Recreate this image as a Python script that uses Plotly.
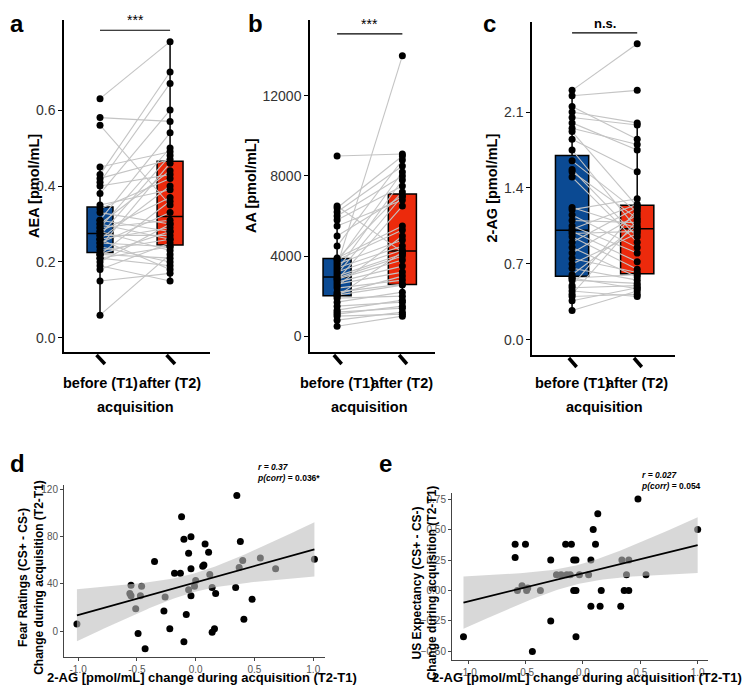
import numpy as np
import plotly.graph_objects as go

groups = ["before (T1)", "after (T2)"]
aea_t1 = [0.06,0.15,0.18,0.19,0.20,0.21,0.21,0.22,0.22,0.22,0.23,0.24,0.24,0.25,0.25,0.26,0.26,0.26,0.27,0.27,
          0.28,0.28,0.29,0.29,0.30,0.30,0.31,0.31,0.33,0.34,0.35,0.38,0.40,0.41,0.42,0.43,0.45,0.56,0.58,0.63]
aea_t2 = [0.22,0.17,0.25,0.15,0.30,0.24,0.19,0.28,0.36,0.21,0.26,0.46,0.20,0.33,0.24,0.40,0.18,0.29,0.48,0.27,
          0.23,0.37,0.31,0.50,0.26,0.44,0.28,0.54,0.30,0.42,0.39,0.60,0.43,0.67,0.47,0.70,0.49,0.35,0.57,0.78]
aa_t1 = [500,800,1000,1100,1200,1300,1500,1700,1900,2000,2050,2100,2200,2400,2500,2600,2700,2800,2850,2900,
         3000,3100,3200,3300,3400,3500,3600,3700,3800,3850,3900,4500,5000,5500,5800,6000,6200,6400,6500,9000]
aa_t2 = [1000,1200,1100,1500,1400,1800,1700,2200,2000,4200,2550,3000,2600,2800,5000,3200,3500,6500,3800,4000,
         4100,7000,4300,7800,4500,14000,4800,8200,5300,7200,5500,8800,7000,6800,7500,8000,8500,9000,4200,9100]
ag_t1 = [0.27,0.36,0.40,0.42,0.45,0.48,0.50,0.55,0.57,0.57,0.60,0.66,0.70,0.75,0.80,0.85,0.90,0.95,0.98,1.00,
         1.02,1.05,1.10,1.15,1.20,1.22,1.50,1.55,1.57,1.65,1.75,1.85,1.92,1.95,2.00,2.05,2.10,2.15,2.25,2.30]
ag_t2 = [0.45,0.48,0.42,1.10,0.40,0.50,1.20,0.52,0.47,0.60,1.05,0.55,0.98,0.62,1.15,0.58,1.22,0.65,1.00,0.72,
         1.25,0.80,1.08,0.85,1.30,1.03,0.90,1.12,0.95,1.18,1.02,1.55,1.23,1.80,1.75,1.98,2.00,1.85,2.30,2.73]

d_x = [-1.01,-0.55,-0.56,-0.55,-0.46,-0.51,-0.47,-0.49,-0.43,-0.35,-0.26,-0.27,-0.22,-0.18,-0.13,-0.12,-0.10,-0.10,
       -0.08,-0.06,-0.06,-0.04,-0.04,-0.04,0.00,-0.01,0.06,0.07,0.08,0.11,0.12,0.14,0.14,0.16,0.17,0.34,0.35,0.37,
       0.38,0.40,0.41,0.48,0.55,0.68,1.01]
d_y = [6,39,32,30,38,19,30,-2,-15,59,29,17,2,49,49,97,78,-9,14,66,35,80,53,30,43,38,55,56,74,67,48,37,-1,2,32,
       37,115,54,76,60,10,27,62,53,61]
e_x = [-1.04,-0.59,-0.59,-0.57,-0.53,-0.50,-0.49,-0.48,-0.44,-0.37,-0.28,-0.28,-0.23,-0.19,-0.15,-0.14,-0.11,-0.10,
       -0.08,-0.08,-0.06,-0.06,-0.06,-0.03,0.05,0.07,0.07,0.09,0.11,0.13,0.15,0.16,0.33,0.34,0.36,0.38,0.40,0.40,
       0.48,0.55,1.00]
e_y = [-0.38,0.38,0.27,0,0.04,0.38,0,0.02,-0.5,0,0.25,-0.25,0.13,0.13,0.38,0.13,0.13,0.38,0.25,0,0.25,0,-0.38,
       0.13,0.13,0.25,-0.13,0.50,0.38,0.63,-0.13,0,-0.13,0.25,0,0.13,0,0.25,0.75,0.13,0.5]

BLUE = "#0b4a93"; RED = "#ec2a0c"
FONT = "Liberation Sans"
OFF = 8                      # page body margin
W, H = 750 - OFF, 688 - OFF
def fx(p): return (p - OFF) / W
def fy(p): return 1 - (p - OFF) / H
def px(x0, x1): return [fx(x0), fx(x1)]
def py(top, bot): return [fy(bot), fy(top)]

fig = go.Figure()
top_panels = [
    ("", aea_t1, aea_t2, px(64, 210), py(20, 352), [0.486, 2.57], [-0.037, 0.837], [0, 0.2, 0.4, 0.6],
     ["0.0", "0.2", "0.4", "0.6"], "AEA [pmol/mL]", 0.37, 0.81, "***", 34),
    ("2", aa_t1, aa_t2, px(310, 435), py(20, 352), [0.585, 2.5], [-790, 15790], [0, 4000, 8000, 12000],
     ["0", "4000", "8000", "12000"], "AA [pmol/mL]", 0.43, 15100, "***", 251),
    ("3", ag_t1, ag_t2, px(532, 675), py(22, 355), [0.385, 2.58], [-0.14, 2.93], [0, 0.7, 1.4, 2.1],
     ["0.0", "0.7", "1.4", "2.1"], "2-AG [pmol/mL]", 0.51, 2.83, "n.s.", 492),
]
for (s, t1, t2, xd, yd, xr, yr, tv, tt, ytitle, bw, sigy, sig, ytx) in top_panels:
    xa, ya = "x" + s, "y" + s
    for pos, vals, col in [(1, t1, BLUE), (2, t2, RED)]:
        fig.add_trace(go.Box(y=vals, x=[pos] * len(vals), xaxis=xa, yaxis=ya, fillcolor=col,
                             line=dict(color="black", width=1.5), width=bw, boxpoints="outliers",
                             marker=dict(opacity=0, size=1), whiskerwidth=0, showlegend=False,
                             hoverinfo="skip"))
    lx, ly = [], []
    for a, b in zip(t1, t2):
        lx += [1, 2, None]; ly += [a, b, None]
    fig.add_trace(go.Scatter(x=lx, y=ly, mode="lines", line=dict(color="#c4c4c4", width=1.1),
                             xaxis=xa, yaxis=ya, showlegend=False, hoverinfo="skip"))
    fig.add_trace(go.Scatter(x=[1] * len(t1) + [2] * len(t2), y=t1 + t2, mode="markers",
                             marker=dict(color="black", size=7), xaxis=xa, yaxis=ya, showlegend=False))
    fig.add_shape(type="line", xref=xa, yref=ya, x0=1, x1=2, y0=sigy, y1=sigy, line=dict(color="black", width=1.2))
    fig.add_annotation(xref=xa, yref=ya, x=1.5, y=sigy, text="<b>" + sig + "</b>" if sig == "n.s." else sig,
                       showarrow=False, yanchor="bottom", font=dict(size=13 if sig == "n.s." else 14, color="black"))
    for pos in (1, 2):
        fig.add_shape(type="line", xref=xa, yref="paper", x0=pos - 0.05, x1=pos + 0.07,
                      y0=yd[0] - 3 / H, y1=yd[0] - 12 / H, line=dict(color="black", width=3.5))
    fig.add_annotation(xref=xa, yref="paper", x=1.5, y=fy(407), text="<b>acquisition</b>", showarrow=False,
                       xanchor="center", font=dict(size=14.5, color="black"))
    for pos, g in [(1, groups[0]), (2, groups[1])]:
        fig.add_annotation(xref=xa, yref="paper", x=pos, y=fy(383), text="<b>" + g + "</b>", xanchor="center",
                           showarrow=False, font=dict(size=14.5, color="black"))
    fig.add_annotation(xref="paper", yref="paper", x=fx(ytx), y=(yd[0] + yd[1]) / 2, text="<b>" + ytitle + "</b>",
                       xanchor="center", yanchor="middle", textangle=-90, showarrow=False,
                       font=dict(size=14.5, color="black"))
    fig.update_layout(**{
        ("xaxis" + s): dict(domain=xd, range=xr, anchor=ya, showline=True, linecolor="black", linewidth=1.5,
                            showticklabels=False, ticks="", automargin=False,
                            showgrid=False, zeroline=False),
        ("yaxis" + s): dict(domain=yd, range=yr, anchor=xa, showline=True, linecolor="black", linewidth=1.5,
                            tickvals=tv, ticktext=tt, ticks="outside", ticklen=4, tickcolor="black", automargin=False,
                            tickfont=dict(size=14, color="#333333", family=FONT), showgrid=False, zeroline=False),
    })

def fit_band(x, y, xs):
    x = np.array(x, float); y = np.array(y, float); n = len(x)
    b1, b0 = np.polyfit(x, y, 1)
    res = y - (b0 + b1 * x); s = np.sqrt(np.sum(res ** 2) / (n - 2))
    se = s * np.sqrt(1 / n + (xs - x.mean()) ** 2 / np.sum((x - x.mean()) ** 2))
    yh = b0 + b1 * xs
    return yh, yh - 2.01 * se, yh + 2.01 * se

bottom = [
    ("4", d_x, d_y, px(64, 325), py(485, 657), [-1.12, 1.10], [-22, 124], [0, 40, 80, 120],
     "<b>Fear Ratings (CS+ - CS-)<br>Change during acquisition (T2-T1)</b>", "r = 0.37", "p(corr)</i> = 0.036*", 31),
    ("5", e_x, e_y, px(452, 708), py(493, 660), [-1.14, 1.09], [-0.57, 0.80], [-0.5, -0.25, 0, 0.25, 0.5, 0.75],
     "<b>US Expectancy (CS+ - CS-)<br>Change during acquisition (T2-T1)</b>", "r = 0.027", "p(corr)</i> = 0.054", 425),
]
for (s, x, y, xd, yd, xr, yr, tv, ytitle, rtxt, ptxt, ytx) in bottom:
    xa, ya = "x" + s, "y" + s
    fig.add_trace(go.Scatter(x=x, y=y, mode="markers", marker=dict(color="black", size=7),
                             xaxis=xa, yaxis=ya, showlegend=False))
    xs = np.linspace(min(x), max(x), 80)
    yh, lo, hi = fit_band(x, y, xs)
    fig.add_trace(go.Scatter(x=np.concatenate([xs, xs[::-1]]), y=np.concatenate([hi, lo[::-1]]), fill="toself",
                             fillcolor="rgba(190,190,190,0.6)", line=dict(width=0), mode="lines",
                             xaxis=xa, yaxis=ya, showlegend=False, hoverinfo="skip"))
    fig.add_trace(go.Scatter(x=xs, y=yh, mode="lines", line=dict(color="black", width=1.8),
                             xaxis=xa, yaxis=ya, showlegend=False))
    fig.add_annotation(xref=xa + " domain", yref=ya + " domain", x=0.73, y=1.0, xanchor="left", yanchor="bottom",
                       align="left", showarrow=False,
                       text="<b><i>" + rtxt + "</i><br><i>" + ptxt + "</b>", font=dict(size=8.5, color="black"))
    fig.add_annotation(xref="paper", yref="paper", x=(xd[0] + xd[1]) / 2 + 0.01, y=fy(677),
                       xanchor="center", yanchor="middle",
                       text="<b>2-AG [pmol/mL] change during acquisition (T2-T1)</b>", showarrow=False,
                       font=dict(size=13, color="black"))
    fig.add_annotation(xref="paper", yref="paper", x=fx(ytx), y=(yd[0] + yd[1]) / 2 - 0.01, text=ytitle,
                       xanchor="center", yanchor="middle",
                       textangle=-90, showarrow=False, font=dict(size=12, color="black"))
    fig.update_layout(**{
        ("xaxis" + s): dict(domain=xd, range=xr, anchor=ya, showline=True, linecolor="#444", linewidth=1,
                            tickvals=[-1, -0.5, 0, 0.5, 1.0], ticktext=["-1.0", "-0.5", "0.0", "0.5", "1.0"],
                            ticks="outside", ticklen=3, tickcolor="#444", showgrid=False, zeroline=False,
                            automargin=False, tickfont=dict(size=10, color="#555")),
        ("yaxis" + s): dict(domain=yd, range=yr, anchor=xa, showline=True, linecolor="#444", linewidth=1,
                            tickvals=tv, ticks="outside", ticklen=3, tickcolor="#444", showgrid=False,
                            zeroline=False, automargin=False, tickfont=dict(size=10, color="#555"),
                            tickformat=".2f" if s == "5" else "d"),
    })

for txt, xx, yy in [("a", 8, 8), ("b", 246, 8), ("c", 481, 8), ("d", 8, 448), ("e", 377, 448)]:
    fig.add_annotation(xref="paper", yref="paper", x=fx(xx), y=fy(yy), xanchor="left", yanchor="top",
                       text="<b>" + txt + "</b>", showarrow=False, font=dict(size=24, color="black"))

fig.update_layout(width=W, height=H, margin=dict(l=0, r=0, t=0, b=0), plot_bgcolor="white",
                  paper_bgcolor="white", boxmode="overlay", font=dict(family=FONT, color="black"))
fig.write_html("out.html")
